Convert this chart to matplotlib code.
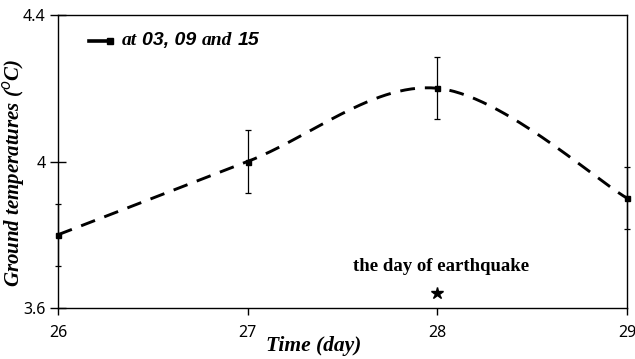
import numpy as np
import matplotlib
matplotlib.use("Agg")
import matplotlib.pyplot as plt
from matplotlib.lines import Line2D
from matplotlib.offsetbox import AnchoredOffsetbox, HPacker, TextArea, DrawingArea

# Daily mean ground temperature (readings at 03, 09 and 15 h)
days = [26, 27, 28, 29]
temps = [3.8, 4.0, 4.2, 3.9]
errors = [0.085, 0.085, 0.085, 0.085]

# Earthquake marker
quake_day = 28
quake_y = 3.641
quake_label = "the day of earthquake"

x_ticks = [26, 27, 28, 29]
y_ticks = [3.6, 4.0, 4.4]
y_tick_labels = ["3.6", "4", "4.4"]

SERIF = "Liberation Serif"
SANS = "Liberation Sans"
TICKFONT = "Noto Sans"


def smooth_curve(xs, ys, n=60):
    """Bezier smoothing through the points (spreadsheet-style smoothed line)."""
    xs = np.asarray(xs, float)
    ys = np.asarray(ys, float)
    px, py = [], []
    m = len(xs)
    for i in range(m - 1):
        x0, y0 = xs[i], ys[i]
        x3, y3 = xs[i + 1], ys[i + 1]
        xp, yp = (xs[i - 1], ys[i - 1]) if i > 0 else (x0, y0)
        xn, yn = (xs[i + 2], ys[i + 2]) if i + 2 < m else (x3, y3)
        x1 = x0 + (x3 - xp) / 6
        y1 = y0 + (y3 - yp) / 6
        x2 = x3 - (xn - x0) / 6
        y2 = y3 - (yn - y0) / 6
        t = np.linspace(0, 1, n)
        bx = (1 - t) ** 3 * x0 + 3 * (1 - t) ** 2 * t * x1 + 3 * (1 - t) * t ** 2 * x2 + t ** 3 * x3
        by = (1 - t) ** 3 * y0 + 3 * (1 - t) ** 2 * t * y1 + 3 * (1 - t) * t ** 2 * y2 + t ** 3 * y3
        px.extend(bx)
        py.extend(by)
    return np.array(px), np.array(py)


fig = plt.figure(figsize=(6.35, 3.59), dpi=100)
ax = fig.add_axes([58 / 635, 1 - 308 / 359, 569 / 635, 293 / 359])

cx, cy = smooth_curve(days, temps)
ax.plot(cx, cy, color="black", lw=2.1, dashes=(5.1, 3.4), clip_on=False)
ax.errorbar(days, temps, yerr=errors, fmt="s", color="black", ms=3.6,
            elinewidth=0.9, capsize=2.4, capthick=0.9, clip_on=False, zorder=3)

ax.plot([quake_day], [quake_y], marker="*", color="black", ms=9, ls="none", clip_on=False)
ax.text(quake_day + 0.02, 3.712, quake_label, ha="center", va="center",
        fontsize=13.5, fontweight="bold", family=SERIF)

ax.set_xlim(26, 29)
ax.set_ylim(3.6, 4.4)
ax.set_xticks(x_ticks)
ax.set_xticklabels([str(d) for d in x_ticks])
ax.set_yticks(y_ticks)
ax.set_yticklabels(y_tick_labels)
ax.tick_params(axis="x", direction="out", length=5, width=1, pad=7, colors="black")
ax.tick_params(axis="y", direction="inout", length=12, width=1, pad=3, colors="black")
for s in ax.spines.values():
    s.set_linewidth(1.0)
for lbl in ax.get_xticklabels() + ax.get_yticklabels():
    lbl.set_family(TICKFONT)
    lbl.set_fontsize(11.5)

fig.text(314 / 635, 1 - 346 / 359, "Time (day)", family=SERIF, fontweight="bold",
         style="italic", fontsize=15.5, ha="center", va="center")
fig.text(14 / 635, 1 - 173 / 359, "Ground temperatures ($^{o}$C)", family=SERIF,
         fontweight="bold", style="italic", fontsize=15, rotation=90,
         ha="center", va="center")

# Legend with mixed serif / sans wording
da = DrawingArea(20, 10, 0, 0)
da.add_artist(Line2D([1, 17], [5, 5], color="black", lw=2.6))
da.add_artist(Line2D([16], [5], marker="s", color="black", ms=3.8))
parts = [("at", SERIF), ("03, 09", SANS), ("and", SERIF), ("15", SANS)]
boxes = [da]
for txt, fam in parts:
    boxes.append(TextArea(txt, textprops=dict(family=fam, fontweight="bold",
                                                   style="italic", fontsize=14)))
pack = HPacker(children=boxes, align="center", pad=0, sep=4)
anch = AnchoredOffsetbox(loc="upper left", child=pack, frameon=False,
                         bbox_to_anchor=(88 / 635, 1 - 32 / 359),
                         bbox_transform=fig.transFigure, borderpad=0, pad=0)
ax.add_artist(anch)

fig.savefig("out.png", dpi=100)
